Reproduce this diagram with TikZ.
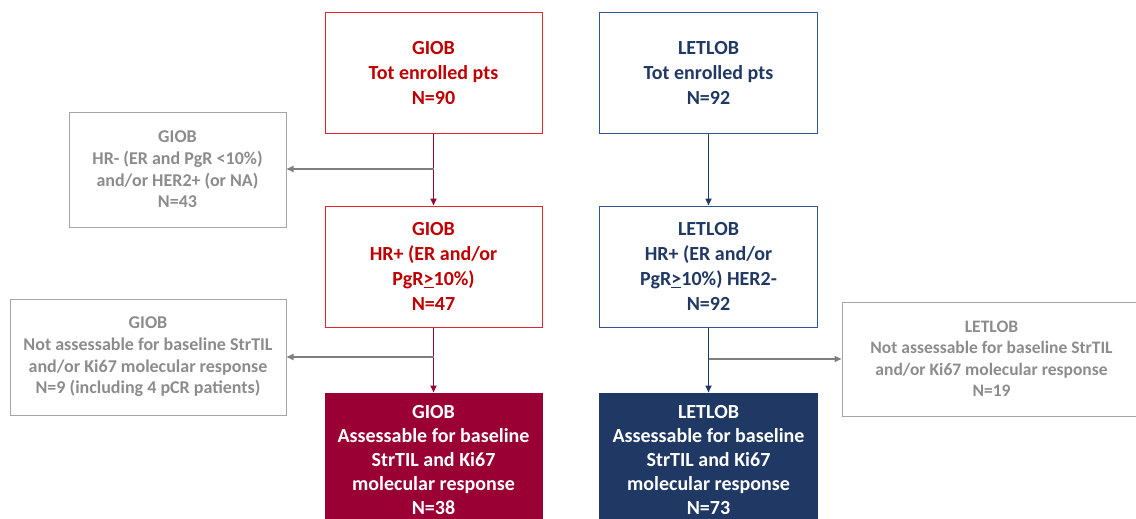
\documentclass[tikz,border=0pt]{standalone}
\usepackage{fontspec}
\setmainfont{Carlito}
\usetikzlibrary{arrows.meta}
\definecolor{gred}{HTML}{E3262E}
\definecolor{gredtxt}{HTML}{C00000}
\definecolor{gdark}{HTML}{9B0034}
\definecolor{lblue}{HTML}{2F5597}
\definecolor{lnavy}{HTML}{1F3864}
\definecolor{gline}{HTML}{A6A6A6}
\definecolor{gtxt}{HTML}{8C8C8C}
\definecolor{garrow}{HTML}{7F7F7F}
\tikzset{
  box/.style={rectangle, draw, line width=1pt, align=center, inner sep=2pt,
    font=\bfseries\fontsize{20}{25}\selectfont},
  redbox/.style={box, draw=gred, text=gredtxt, minimum width=217pt, minimum height=121pt},
  bluebox/.style={box, draw=lblue, text=lnavy, minimum width=218pt, minimum height=121pt},
  graybox/.style={box, draw=gline, text=gtxt, font=\bfseries\fontsize{18}{21.7}\selectfont},
  darkbox/.style={box, draw=gdark, fill=gdark, text=white, minimum width=217pt, minimum height=134pt,
    font=\bfseries\fontsize{20}{24}\selectfont},
  navybox/.style={box, draw=lnavy, fill=lnavy, text=white, minimum width=218pt, minimum height=134pt,
    font=\bfseries\fontsize{20}{24}\selectfont},
  arr/.style={-{Triangle[length=7pt,width=6pt]}, line width=1.6pt},
}
\begin{document}
\begin{tikzpicture}[x=1pt,y=-1pt]
\useasboundingbox (0,0) rectangle (1136,519);
\clip (0,0) rectangle (1136,519);
% top boxes
\node[redbox] (g1) at (433.5,73) {GIOB\\Tot enrolled pts\\N=90};
\node[bluebox] (l1) at (708.5,73) {LETLOB\\Tot enrolled pts\\N=92};
% middle
\node[redbox] (g2) at (433.5,266.5) {GIOB\\HR+ (ER and/or\\PgR\underline{>}10\%)\\N=47};
\node[bluebox] (l2) at (708.5,266.5) {LETLOB\\HR+ (ER and/or\\PgR\underline{>}10\%) HER2-\\N=92};
% bottom
\node[darkbox] (g3) at (433.5,460) {GIOB\\Assessable for baseline\\StrTIL and Ki67\\molecular response\\N=38};
\node[navybox] (l3) at (708.5,460) {LETLOB\\Assessable for baseline\\StrTIL and Ki67\\molecular response\\N=73};
% gray boxes
\node[graybox, minimum width=217pt, minimum height=115pt] (x1) at (177.5,169.5) {GIOB\\HR- (ER and PgR <10\%)\\and/or HER2+ (or NA)\\N=43};
\node[graybox, minimum width=276pt, minimum height=116pt] (x2) at (148,357) {GIOB\\Not assessable for baseline StrTIL\\and/or Ki67 molecular response\\N=9 (including 4 pCR patients)};
\node[graybox, minimum width=299pt, minimum height=114pt, font=\bfseries\fontsize{17.5}{21.5}\selectfont] (x3) at (991.5,359) {LETLOB\\Not assessable for baseline StrTIL\\and/or Ki67 molecular response\\N=19};
% connectors
\coordinate (b1) at (g1.south |- 0,169);
\coordinate (b2) at (g2.south |- 0,357);
\coordinate (b3) at (l2.south |- 0,359);
\draw[arr, gdark] (g1.south) -- (g2.north);
\draw[arr, gdark] (g2.south) -- (g3.north);
\draw[arr, lnavy] (l1.south) -- (l2.north);
\draw[arr, lnavy] (l2.south) -- (l3.north);
\draw[arr, garrow] (b1) -- (x1.east |- b1);
\draw[arr, garrow] (b2) -- (x2.east |- b2);
\draw[arr, garrow] (b3) -- (x3.west |- b3);
\end{tikzpicture}
\end{document}
